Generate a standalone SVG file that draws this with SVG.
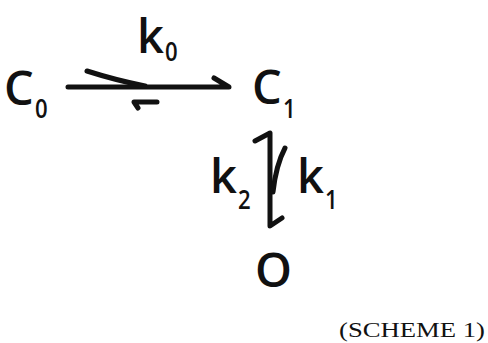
<svg xmlns="http://www.w3.org/2000/svg" width="488" height="343" viewBox="0 0 488 343">
<style>
.t{font-family:"Open Sans","Noto Sans","DejaVu Sans",sans-serif;font-weight:600;fill:#111;}
.big{font-size:47px;}
.sub{font-size:27px;}
.cap{font-family:"Liberation Serif","Times New Roman",serif;font-size:21px;fill:#111;}
.ar{fill:none;stroke:#111;stroke-width:5;stroke-linecap:round;stroke-linejoin:round;}
</style>
<rect width="488" height="343" fill="#fff"/>
<g id="connectors">
<path class="ar" d="M68,87 H229 L214,78"/>
<path class="ar" d="M87,71 Q115,80 145,86"/>
<path class="ar" d="M157,102 H134 L138,108"/>
<path class="ar" d="M255,141 L270,133 V226 L282,218"/>
<path class="ar" d="M285,148 Q276,165 273,192"/>
</g>
<g id="node-C0"><text class="t big" x="4" y="105">C</text><text class="t sub" transform="translate(35,118) scale(0.82,1)">0</text></g>
<g id="node-C1"><text class="t big" x="252" y="104">C</text><text class="t sub" transform="translate(283,118) scale(0.82,1)">1</text></g>
<g id="node-O"><text class="t big" x="255" y="287">O</text></g>
<g id="label-k0"><text class="t big" x="137" y="53">k</text><text class="t sub" transform="translate(165,61) scale(0.82,1)">0</text></g>
<g id="label-k2"><text class="t big" x="210" y="193">k</text><text class="t sub" transform="translate(238,209) scale(0.82,1)">2</text></g>
<g id="label-k1"><text class="t big" x="297" y="193">k</text><text class="t sub" transform="translate(325,209) scale(0.82,1)">1</text></g>
<g id="caption"><text class="cap" x="339" y="337" textLength="146" lengthAdjust="spacingAndGlyphs">(SCHEME 1)</text></g>
</svg>
